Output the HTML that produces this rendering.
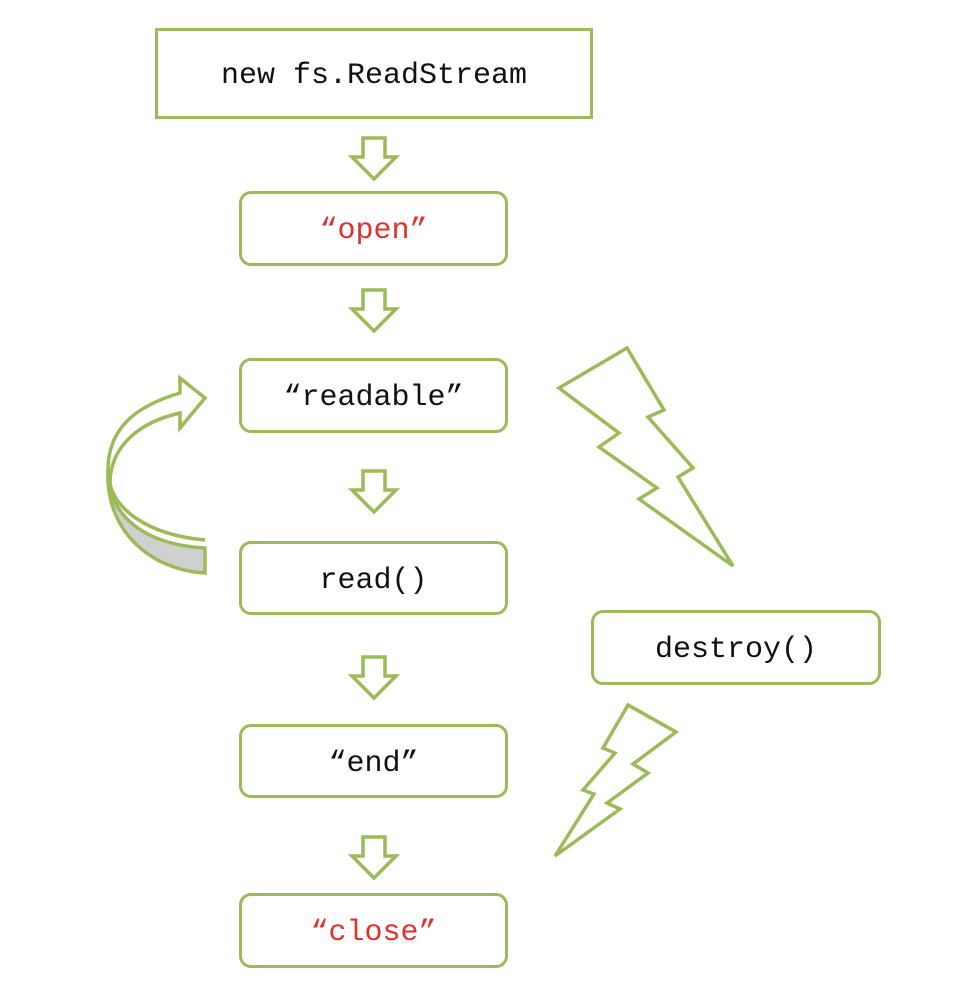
<!DOCTYPE html>
<html><head><style>
html,body{margin:0;padding:0;background:#fff;}
body{width:963px;height:1006px;position:relative;overflow:hidden;}
.b{position:absolute;border:3px solid #9bbb59;border-radius:12px;box-sizing:border-box;display:flex;align-items:center;justify-content:center;font-family:"Liberation Mono",monospace;font-size:30px;color:#111;padding-top:5px;}
.r{color:#e0302a;}
svg{position:absolute;left:0;top:0;}
</style></head><body>
<svg width="963" height="1006" viewBox="0 0 963 1006">
<g fill="none" stroke="#9bbb59" stroke-width="3.5" stroke-linejoin="miter">
<g id="ar"><path d="M363 138 H385 V157 H396 L374 179 L352 157 H363 Z"/></g>
<use href="#ar" transform="translate(0,152)"/>
<use href="#ar" transform="translate(0,333)"/>
<use href="#ar" transform="translate(0,519)"/>
<use href="#ar" transform="translate(0,699)"/>
<path d="M627 348 L559 388 L619 433 L599 447 L657 488 L639 499 L733 566 L678 477 L693 468 L648 417 L664 410 Z"/>
<path d="M628 705 L676 732 L633 764 L648 773 L607 803 L620 809 L555 856 L594 794 L583 790 L615 753 L603 748 Z"/>
<path d="M205 540 C150 535 108 510 108 470 C108 425 140 405 180 393 L180 378 L205 398 L180 428 L180 413 C140 422 112 445 110 480" />
</g>
<path d="M110 480 C112 520 150 545 205 548 L205 573 C150 570 105 530 108 470 Z" fill="#d0d0d0" stroke="#9bbb59" stroke-width="3.5"/>
</svg>
<div class="b" style="left:155px;top:28px;width:438px;height:91px;border-radius:0;">new fs.ReadStream</div>
<div class="b r" style="left:239px;top:191px;width:269px;height:75px;">“open”</div>
<div class="b" style="left:239px;top:358px;width:269px;height:75px;">“readable”</div>
<div class="b" style="left:239px;top:541px;width:269px;height:74px;">read()</div>
<div class="b" style="left:239px;top:724px;width:269px;height:74px;">“end”</div>
<div class="b r" style="left:239px;top:893px;width:269px;height:75px;">“close”</div>
<div class="b" style="left:591px;top:610px;width:290px;height:75px;">destroy()</div>
</body></html>
